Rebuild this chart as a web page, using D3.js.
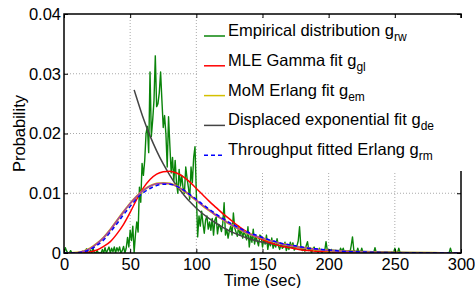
<!DOCTYPE html>
<html>
<head>
<meta charset="utf-8">
<script src="https://cdn.jsdelivr.net/npm/d3@7"></script>
<style>
  body { margin: 0; background: #fff; }
  text { font-family: "Liberation Sans", Arial, Helvetica, sans-serif; }
</style>
</head>
<body>
<svg width="475" height="288"></svg>
<script>
// axis ticks
const xTicks = [0, 50, 100, 150, 200, 250, 300];
const yTicks = [0, 0.01, 0.02, 0.03, 0.04];
const yTickLabels = ["0", "0.01", "0.02", "0.03", "0.04"];

// empirical distribution, one value per second from t = 0 to 300
const empProb = [
  0,
  0.0009, 0.0003, 0, 0, 0.0004, 0, 0, 0, 0, 0,
  0, 0, 0, 0.0003, 0, 0, 0.0007, 0, 0, 0.0005,
  0, 0.0008, 0, 0, 0.0004, 0, 0, 0, 0.0006, 0,
  0.0009, 0, 0.0005, 0.0010, 0, 0.0008, 0.0002, 0.0010, 0, 0.0009,
  0.0003, 0.0010, 0, 0.0004, 0.0011, 0, 0.0008, 0.0026, 0.0010, 0.0038,
  0.0021, 0.0045, 0.0001, 0.0031, 0.0052, 0.0035, 0.0110, 0.0085, 0.0150, 0.0130,
  0.0155, 0.0200, 0.0212, 0.0168, 0.0303, 0.0195, 0.0222, 0.0255, 0.0330, 0.0245,
  0.0250, 0.0268, 0.0303, 0.0255, 0.0210, 0.0230, 0.0200, 0.0144, 0.0228, 0.0180,
  0.0134, 0.0160, 0.0120, 0.0155, 0.0118, 0.0100, 0.0140, 0.0112, 0.0130, 0.0108,
  0.0100, 0.0144, 0.0125, 0.0110, 0.0090, 0.0144, 0.0118, 0.0160, 0.0178, 0.0100,
  0.0027, 0.0062, 0.0045, 0.0070, 0.0050, 0.0033, 0.0055, 0.0062, 0.0040, 0.0052,
  0.0038, 0.0058, 0.0030, 0.0055, 0.0060, 0.0032, 0.0048, 0.0044, 0.0036, 0.0050,
  0.0084, 0.0030, 0.0040, 0.0025, 0.0038, 0.0045, 0.0030, 0.0067, 0.0042, 0.0035,
  0.0028, 0.0045, 0.0030, 0.0040, 0.0025, 0.0036, 0.0030, 0.0022, 0.0044, 0.0010,
  0.0030, 0.0018, 0.0040, 0.0015, 0.0028, 0.0020, 0.0012, 0.0030, 0.0028, 0.0010,
  0.0024, 0.0015, 0.0030, 0.0006, 0.0020, 0.0012, 0.0025, 0.0008, 0.0016, 0.0010,
  0.0024, 0.0012, 0.0006, 0.0015, 0.0008, 0.0010, 0.0018, 0.0004, 0.0012, 0.0006,
  0.0018, 0.0010, 0.0017, 0.0005, 0.0008, 0.0012, 0.0020, 0.0044, 0.0010, 0.0004,
  0.0008, 0.0003, 0.0012, 0.0019, 0.0004, 0.0008, 0, 0.0006, 0.0010, 0.0003,
  0.0006, 0, 0.0008, 0.0004, 0, 0.0005, 0.0003, 0.0019, 0.0004, 0,
  0, 0.0006, 0, 0.0003, 0, 0, 0.0004, 0, 0.0008, 0.0002,
  0.0008, 0, 0, 0, 0.0004, 0, 0.0012, 0.0027, 0.0005, 0,
  0, 0.0008, 0, 0, 0.0008, 0, 0, 0, 0, 0,
  0, 0, 0, 0, 0.0009, 0, 0, 0, 0, 0,
  0, 0, 0, 0, 0, 0, 0, 0, 0, 0.0008,
  0, 0, 0.0008, 0, 0, 0, 0, 0, 0, 0,
  0, 0, 0, 0, 0, 0, 0, 0, 0, 0,
  0, 0, 0, 0, 0, 0, 0, 0, 0, 0,
  0, 0, 0, 0, 0, 0, 0, 0, 0, 0,
  0, 0.0008, 0, 0, 0, 0, 0, 0, 0, 0
];

// fitted curves, read every 5 s (every 10 s after 200)
const fitTimes = [0, 5, 10, 15, 20, 25, 30, 35, 40, 45, 50, 55, 60, 65, 70, 75, 80, 85, 90, 95,
  100, 105, 110, 115, 120, 125, 130, 135, 140, 145, 150, 155, 160, 165, 170, 175, 180, 185, 190, 195,
  200, 210, 220, 230, 240, 250, 260, 270, 280, 290, 300];

const gammaMle = [0, 0, 0, 0.00003, 0.0002, 0.0005, 0.0011, 0.0019, 0.0032, 0.0048,
  0.0068, 0.0090, 0.0109, 0.0123, 0.0132, 0.0136, 0.0137, 0.0134, 0.0128, 0.0119,
  0.0108, 0.0097, 0.0086, 0.0076, 0.0066, 0.0057, 0.0048, 0.0040, 0.0033, 0.0027,
  0.0022, 0.0018, 0.0014, 0.0011, 0.0009, 0.0007, 0.0005, 0.0004, 0.0003, 0.00025,
  0.0002, 0.0001, 0.00006, 0.00003, 0.00002, 0.00001, 0, 0, 0, 0, 0];

const erlangMom = [0, 0, 0.00006, 0.0003, 0.0008, 0.0016, 0.0026, 0.0039, 0.0054, 0.0069,
  0.0083, 0.0095, 0.0105, 0.0112, 0.0116, 0.0117, 0.0116, 0.0112, 0.0105, 0.0097,
  0.0088, 0.0079, 0.0071, 0.0063, 0.0056, 0.0049, 0.0043, 0.0037, 0.0032, 0.0028,
  0.0025, 0.0021, 0.0018, 0.0015, 0.0013, 0.0011, 0.0009, 0.0008, 0.0006, 0.0005,
  0.0004, 0.0003, 0.0002, 0.00013, 0.00008, 0.00005, 0.00003, 0.00002, 0.00001, 0, 0];

const erlangRm = [0, 0, 0.00003, 0.0002, 0.0006, 0.0013, 0.0022, 0.0035, 0.0049, 0.0064,
  0.0078, 0.0091, 0.0101, 0.0108, 0.0113, 0.0115, 0.0115, 0.0112, 0.0106, 0.0098,
  0.0090, 0.0081, 0.0073, 0.0065, 0.0058, 0.0051, 0.0045, 0.0039, 0.0034, 0.0030,
  0.0026, 0.0022, 0.0019, 0.0016, 0.0014, 0.0012, 0.0010, 0.0008, 0.0007, 0.0006,
  0.0005, 0.0003, 0.0002, 0.00015, 0.0001, 0.00006, 0.00004, 0.00002, 0.00001, 0, 0];

// displaced exponential starts at t = 53
const deTimes = [53, 55, 60, 65, 70, 75, 80, 85, 90, 95, 100, 110, 120, 130, 140, 150,
  160, 170, 180, 190, 200, 220, 240, 260, 280, 300];
const deProb = [0.0273, 0.0259, 0.0225, 0.0196, 0.0171, 0.0149, 0.0130, 0.0113, 0.0099, 0.0086,
  0.0075, 0.0057, 0.0043, 0.0032, 0.0024, 0.0018, 0.0014, 0.0010, 0.0008, 0.0006,
  0.0005, 0.0003, 0.00016, 0.00009, 0.00005, 0.00003];

const legendNames = [
  ["Empirical distribution g", "rw"],
  ["MLE Gamma fit g", "gl"],
  ["MoM Erlang fit g", "em"],
  ["Displaced exponential fit g", "de"],
  ["Throughput fitted Erlang g", "rm"]
];

let svg = d3.select("svg");
const L = 64, R = 461, T = 14, B = 253;
const fs = 16.5;

let x = d3.scaleLinear().domain([0, 300]).range([L, R]);
let y = d3.scaleLinear().domain([0, 0.04]).range([B, T]);

// grid
let grid = svg.append("g").attr("stroke", "#aaa").attr("stroke-dasharray", "1,2").attr("stroke-width", 1);
grid.selectAll(".gx").data(xTicks.slice(1, -1)).enter().append("line")
  .attr("x1", d => x(d)).attr("x2", d => x(d)).attr("y1", T).attr("y2", B);
grid.selectAll(".gy").data(yTicks.slice(1, -1)).enter().append("line")
  .attr("y1", d => y(d)).attr("y2", d => y(d)).attr("x1", L).attr("x2", R);

svg.append("clipPath").attr("id", "clip").append("rect")
  .attr("x", L).attr("y", T - 2).attr("width", R - L).attr("height", B - T + 2);

let plot = svg.append("g").attr("clip-path", "url(#clip)").attr("fill", "none");

let rawLine = d3.line().x((d, i) => x(i)).y(d => y(d));
let fitLine = d3.line().x((d, i) => x(fitTimes[i])).y(d => y(d)).curve(d3.curveMonotoneX);
let deLine = d3.line().x((d, i) => x(deTimes[i])).y(d => y(d)).curve(d3.curveMonotoneX);

plot.append("path").attr("d", rawLine(empProb)).attr("stroke", "#0a840a").attr("stroke-width", 1.4)
  .attr("stroke-linejoin", "round");
plot.append("path").attr("d", deLine(deProb)).attr("stroke", "#444").attr("stroke-width", 1.5);
plot.append("path").attr("d", fitLine(gammaMle)).attr("stroke", "#ff0000").attr("stroke-width", 1.5);
plot.append("path").attr("d", fitLine(erlangMom)).attr("stroke", "#d4c000").attr("stroke-width", 2.2);
plot.append("path").attr("d", fitLine(erlangMom)).attr("stroke", "#a030c0").attr("stroke-width", 1.3);
plot.append("path").attr("d", fitLine(erlangRm)).attr("stroke", "#0000ff").attr("stroke-width", 1.5)
  .attr("stroke-dasharray", "4,3");

// axes with inward ticks
let xAxis = svg.append("g").attr("transform", `translate(0,${B})`)
  .call(d3.axisBottom(x).tickValues(xTicks).tickSizeInner(-4).tickSizeOuter(0).tickPadding(5));
let yAxis = svg.append("g").attr("transform", `translate(${L},0)`)
  .call(d3.axisLeft(y).tickValues(yTicks).tickFormat((d, i) => yTickLabels[i])
    .tickSizeInner(-4).tickSizeOuter(0).tickPadding(3));
let xTop = svg.append("g").attr("transform", `translate(0,${T})`)
  .call(d3.axisTop(x).tickValues(xTicks).tickFormat("").tickSizeInner(-4).tickSizeOuter(0));
let yRight = svg.append("g").attr("transform", `translate(${R},0)`)
  .call(d3.axisRight(y).tickValues(yTicks).tickFormat("").tickSizeInner(-4).tickSizeOuter(0));

[xAxis, yAxis, xTop, yRight].forEach(a => {
  a.select(".domain").remove();
  a.selectAll("text").attr("font-size", fs).attr("fill", "#000")
    .style("font-family", "'Liberation Sans', Arial, sans-serif");
  a.selectAll(".tick line").attr("stroke", "#000");
});

svg.append("rect").attr("x", L).attr("y", T).attr("width", R - L).attr("height", B - T)
  .attr("fill", "none").attr("stroke", "#000").attr("stroke-width", 1.5);

// axis titles
svg.append("text").attr("x", (L + R) / 2).attr("y", 286).attr("text-anchor", "middle")
  .attr("font-size", fs).text("Time (sec)");
svg.append("text").attr("transform", `translate(25,${(T + B) / 2}) rotate(-90)`)
  .attr("text-anchor", "middle").attr("font-size", fs).text("Probability");

// legend
svg.append("rect").attr("x", 199).attr("y", 18).attr("width", 270).attr("height", 153).attr("fill", "#fff");
const legendColors = ["#0a840a", "#ff0000", "#d4c000", "#444", "#0000ff"];
let leg = svg.append("g");
let rows = leg.selectAll("g").data(legendNames).enter().append("g")
  .attr("transform", (d, i) => `translate(0,${36 + i * 29.8})`);
rows.append("line").attr("x1", 204).attr("x2", 225).attr("y1", 0).attr("y2", 0)
  .attr("stroke", (d, i) => legendColors[i]).attr("stroke-width", 1.5)
  .attr("stroke-dasharray", (d, i) => i == 4 ? "4,3" : null);
let lt = rows.append("text").attr("x", 228).attr("y", 0).attr("font-size", fs);
lt.append("tspan").text(d => d[0]);
lt.append("tspan").attr("dy", 5).attr("font-size", 12).text(d => d[1]);
</script>
</body>
</html>
